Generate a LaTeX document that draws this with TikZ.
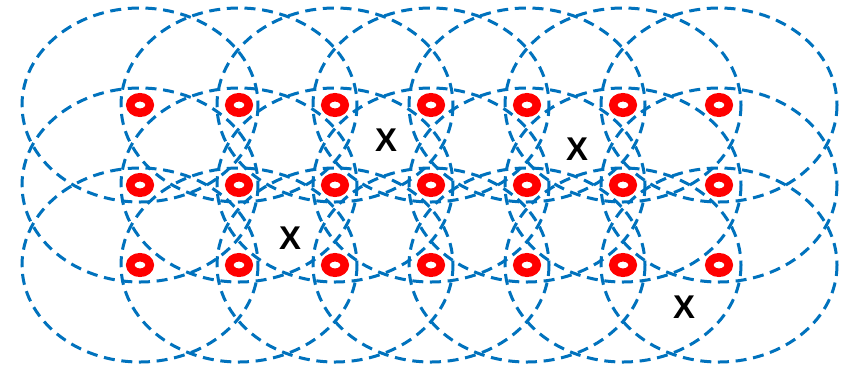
\documentclass[tikz,border=0pt]{standalone}
\usepackage{fontspec}
\setmainfont{Liberation Sans}
\usetikzlibrary{shapes.geometric}
\definecolor{rangeblue}{RGB}{0,114,189}

\begin{document}
\begin{tikzpicture}[x=1bp,y=-1bp,
  anchorpt/.style={ellipse,draw=red,line width=8.5bp,fill=white,inner sep=0pt,minimum width=19.5bp,minimum height=15.5bp},
  cover/.style={draw=rangeblue,line width=3bp,dash pattern=on 11bp off 6.7bp},
  unk/.style={font=\fontsize{33}{33}\selectfont\bfseries,inner sep=0pt}]
\useasboundingbox (0,0) rectangle (844,371);
% coverage areas first, anchors on top
\foreach \c/\x in {1/140,2/239,3/335,4/431,5/527,6/623,7/719}
  \foreach \r/\y in {1/105,2/185,3/265}
    \coordinate (p-\c-\r) at (\x,\y);
\foreach \c in {1,...,7}
  \foreach \r in {1,2,3}
    \draw[cover] (p-\c-\r) ellipse [x radius=118,y radius=97];
\foreach \c in {1,...,7}
  \foreach \r in {1,2,3}
    \node[anchorpt] (r-\c-\r) at (p-\c-\r) {};
% unknown positions
\node[unk] (xa) at (386,140) {X};
\node[unk] (xb) at (577,149) {X};
\node[unk] (xc) at (290,238) {X};
\node[unk] (xd) at (684,307) {X};
\end{tikzpicture}
\end{document}
